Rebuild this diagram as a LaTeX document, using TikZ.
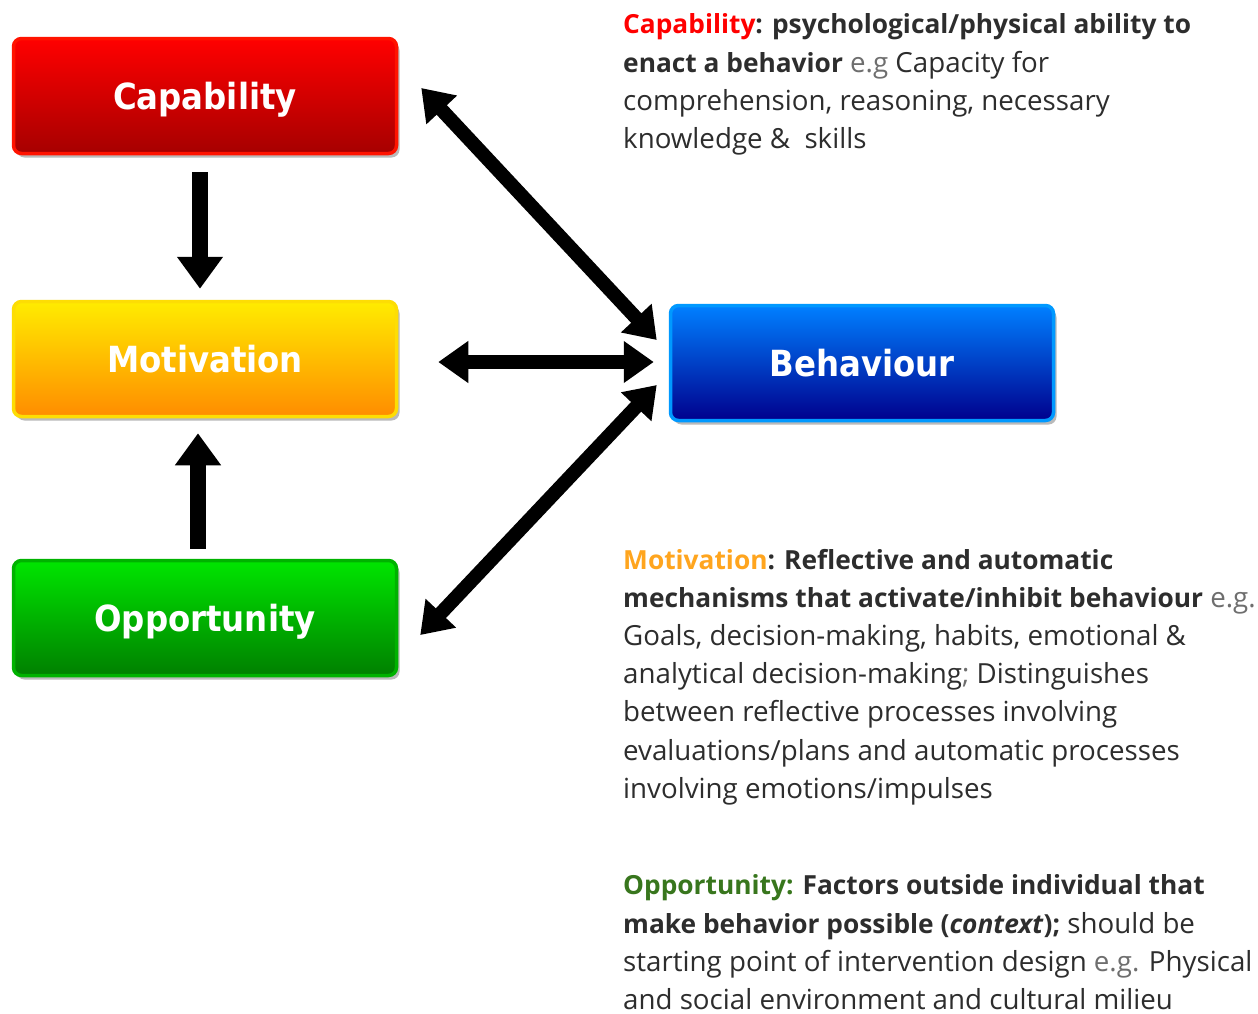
\documentclass[tikz,border=0pt]{standalone}
\usepackage{fontspec}
\setmainfont{Open Sans}
\newfontfamily\boxfont{DejaVu Sans Condensed}
\usetikzlibrary{arrows.meta,shadows}
\definecolor{capred}{RGB}{255,0,0}
\definecolor{motorange}{RGB}{255,165,30}
\definecolor{oppgreen}{RGB}{56,118,29}
\definecolor{bodytxt}{RGB}{45,45,45}
\definecolor{egtxt}{RGB}{110,110,110}
\newcommand{\eg}[1]{{\color{egtxt}#1}}
\newcommand{\B}[1]{{\fontsize{26.3}{38.2}\selectfont\bfseries #1}}
\tikzset{
  box/.style={rounded corners=8pt, minimum width=383pt, minimum height=115pt,
    line width=3.5pt, text=white, text height=30pt, text depth=4pt,
    font=\boxfont\bfseries\fontsize{36}{36}\selectfont,
    drop shadow={shadow xshift=3pt, shadow yshift=-4pt, fill=black!45, opacity=0.6}},
  fat/.style={line width=16pt, draw=black, -{Triangle[length=32pt,width=44pt]}},
  fatboth/.style={line width=14pt, draw=black, {Triangle[length=30pt,width=40pt]}-{Triangle[length=30pt,width=40pt]}},
  desc/.style={anchor=base west, inner sep=0pt, text=bodytxt, font=\fontsize{27.7}{38.2}\selectfont}
}
\begin{document}
\begin{tikzpicture}[x=1pt,y=-1pt]
\useasboundingbox[fill=white] (0,0) rectangle (1258,1013);
\node[box, draw=red!85!orange, top color=red!100, bottom color=red!65!black] (cap) at (205,96) {Capability};
\node[box, draw=yellow!80!orange, top color=yellow!85!orange, bottom color=orange!90!yellow] (mot) at (205,359) {Motivation};
\node[box, draw=green!70!black, top color=green!90!black, bottom color=green!50!black] (opp) at (205,618) {Opportunity};
\node[box, draw=blue!40!cyan, top color=blue!50!cyan, bottom color=blue!55!black] (beh) at (862,363) {Behaviour};

\draw[fat, shorten <=17pt, shorten >=11pt] ([xshift=-5pt]cap.south) -- ([xshift=-5pt]mot.north);
\draw[fat, shorten <=10pt, shorten >=15pt] ([xshift=-7pt]opp.north) -- ([xshift=-7pt]mot.south);
\draw[fatboth, shorten <=40pt, shorten >=15pt] ([yshift=-3pt]mot.east) -- ([yshift=1pt]beh.west);
\draw[fatboth] ([xshift=23pt,yshift=8pt]cap.east) -- ([xshift=-12pt,yshift=23pt]beh.west);
\draw[fatboth] ([xshift=22pt,yshift=-17pt]opp.east) -- ([xshift=-12pt,yshift=-22pt]beh.west);

\node[desc] (captxt) at (623,14) {\parbox[t]{700pt}{\raggedright
\B{{\color{capred}Capability}: psychological/physical ability to}\\
\B{enact a behavior} \eg{e.g} Capacity for\\
comprehension, reasoning, necessary\\
knowledge \&\ \ skills}};
\node[desc] (mottxt) at (623,549) {\parbox[t]{700pt}{\raggedright
\B{{\color{motorange}Motivation}: Reflective and automatic}\\
\B{mechanisms that activate/inhibit behaviour} \eg{e.g.}\\
Goals, decision-making, habits, emotional \&\\
analytical decision-making\eg{;} Distinguishes\\
between reflective processes involving\\
evaluations/plans and automatic processes\\
involving emotions/impulses}};
\node[desc] (opptxt) at (623,875) {\parbox[t]{700pt}{\raggedright
\B{{\color{oppgreen}Opportunity:} Factors outside individual that}\\
\B{make behavior possible (\textit{context});} should be\\
starting point of intervention design \eg{e.g.} Physical\\
and social environment and cultural milieu}};
\end{tikzpicture}
\end{document}
